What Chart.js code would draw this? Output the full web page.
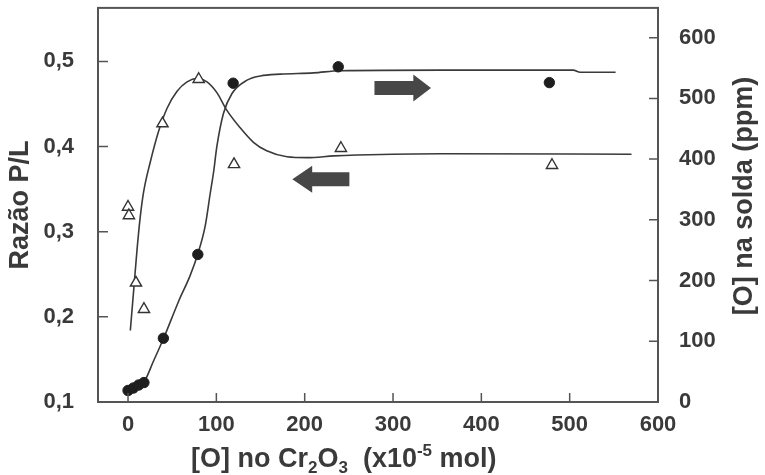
<!DOCTYPE html>
<html>
<head>
<meta charset="utf-8">
<script src="https://cdn.jsdelivr.net/npm/chart.js@4/dist/chart.umd.min.js"></script>
<style>
  html, body { margin: 0; padding: 0; background: #fff; }
  #wrap { width: 765px; height: 475px; }
</style>
</head>
<body>
<div id="wrap"><canvas id="grafico"></canvas></div>
<script>
// ---- dados ----
// triângulos: razão P/L (eixo esquerdo)
const xTriangulos = [0, 1, 9, 18, 39, 80, 120, 241, 480];
const razaoPL = [0.329, 0.319, 0.240, 0.209, 0.427, 0.479, 0.379, 0.398, 0.378];

// círculos: [O] na solda (eixo direito, ppm)
const xCirculos = [0, 6, 12, 18, 40, 79, 119, 238, 477];
const oxigenioSolda = [19, 23, 28, 32, 105, 243, 525, 552, 526];

// curva ajustada da razão P/L
const xCurvaPL = [2.6, 6.3, 10.2, 13.9, 17.7, 25, 34.6, 44.2, 55.5, 66.8, 78.5, 89.4, 100.8, 111, 127, 142, 157, 180, 203, 233, 259, 354, 570];
const curvaPL = [0.184, 0.230, 0.279, 0.318, 0.347, 0.381, 0.418, 0.445, 0.465, 0.476, 0.480, 0.476, 0.463, 0.444, 0.422, 0.405, 0.395, 0.388, 0.387, 0.389, 0.390, 0.3916, 0.391];

// curva ajustada do oxigênio na solda
const xCurvaO = [-3, 0.7, 6.3, 12, 17.7, 29, 40.3, 57.3, 70.5, 78.8, 87.5, 93.2, 97, 100.5, 108, 117.7, 134.7, 149.8, 172.4, 210, 240, 354, 504, 512, 552];
const curvaO = [14, 19, 23.5, 28, 32, 68, 105, 166, 209, 243, 291, 345, 380, 420, 475, 508, 530, 537, 540, 542, 545.5, 546.5, 546.5, 543, 543];

// marcas dos eixos
const xTicks = [0, 100, 200, 300, 400, 500, 600];
const yEsqTicks = [0.1, 0.2, 0.3, 0.4, 0.5];
const yEsqLabels = ["0,1", "0,2", "0,3", "0,4", "0,5"];
const yDirTicks = [0, 100, 200, 300, 400, 500, 600];

// setas (unidades de dados: x, razão P/L)
const setaDireita = { cauda: 279, base: 323, ponta: 343, y: 0.4686 };
const setaEsquerda = { cauda: 250.6, base: 208.5, ponta: 186, y: 0.3616 };

const FONTE = "'Liberation Sans', Arial, sans-serif";
const COR_TEXTO = "#3a3a3a";
const COR_EIXO = "#555";
const COR_LINHA = "#3a3a3a";

const pts = (xs, ys) => xs.map((x, i) => ({ x: x, y: ys[i] }));

/* ---------- plugin: moldura, marcas internas, setas e títulos ---------- */
const decoracao = {
  id: "decoracao",
  afterDraw(chart) {
    const { ctx, chartArea: a } = chart;
    const sx = chart.scales.x, sy = chart.scales.y, sy2 = chart.scales.y2;

    ctx.save();
    // moldura
    ctx.strokeStyle = COR_EIXO;
    ctx.lineWidth = 2;
    ctx.strokeRect(a.left, a.top, a.right - a.left, a.bottom - a.top);

    // marcas para dentro
    ctx.lineWidth = 1.5;
    ctx.beginPath();
    xTicks.forEach(v => {
      const p = sx.getPixelForValue(v);
      ctx.moveTo(p, a.bottom); ctx.lineTo(p, a.bottom - 9);
    });
    yEsqTicks.forEach(v => {
      const p = sy.getPixelForValue(v);
      ctx.moveTo(a.left, p); ctx.lineTo(a.left + 10, p);
    });
    yDirTicks.forEach(v => {
      const p = sy2.getPixelForValue(v);
      ctx.moveTo(a.right, p); ctx.lineTo(a.right - 9, p);
    });
    ctx.stroke();

    // setas
    ctx.fillStyle = "#474747";
    [setaDireita, setaEsquerda].forEach(s => {
      const xc = sx.getPixelForValue(s.cauda);
      const xb = sx.getPixelForValue(s.base);
      const xp = sx.getPixelForValue(s.ponta);
      const yc = sy.getPixelForValue(s.y);
      ctx.beginPath();
      ctx.moveTo(xc, yc - 7);
      ctx.lineTo(xb, yc - 7);
      ctx.lineTo(xb, yc - 13.5);
      ctx.lineTo(xp, yc);
      ctx.lineTo(xb, yc + 13.5);
      ctx.lineTo(xb, yc + 7);
      ctx.lineTo(xc, yc + 7);
      ctx.closePath();
      ctx.fill();
    });

    // títulos dos eixos
    ctx.fillStyle = COR_TEXTO;
    ctx.textBaseline = "alphabetic";
    ctx.font = "bold 27px " + FONTE;

    ctx.save();
    ctx.translate(28, (a.top + a.bottom) / 2);
    ctx.rotate(-Math.PI / 2);
    ctx.textAlign = "center";
    ctx.fillText("Razão P/L", 0, 0);
    ctx.restore();

    ctx.save();
    ctx.translate(752, 196);
    ctx.rotate(-Math.PI / 2);
    ctx.textAlign = "center";
    ctx.fillText("[O] na solda (ppm)", 0, 0);
    ctx.restore();

    // título do eixo x com índices
    const partes = [
      { t: "[O] no Cr", k: 0 }, { t: "2", k: 1 }, { t: "O", k: 0 }, { t: "3", k: 1 },
      { t: "  (x10", k: 0 }, { t: "-5", k: -1 }, { t: " mol)", k: 0 }
    ];
    let x = 191;
    const base = 467;
    ctx.textAlign = "left";
    partes.forEach(p => {
      ctx.font = (p.k === 0 ? "bold 27px " : "bold 17px ") + FONTE;
      const dy = p.k === 1 ? 6 : (p.k === -1 ? -11 : 0);
      ctx.fillText(p.t, x, base + dy);
      x += ctx.measureText(p.t).width;
    });
    ctx.restore();
  }
};

const fixarTicks = lista => scale => { scale.ticks = lista.map(v => ({ value: v })); };
const semPaddingV = w => s => { s.width = w; s.paddingTop = 0; s.paddingBottom = 0; };

new Chart(document.getElementById("grafico"), {
  type: "scatter",
  data: {
    datasets: [
      {
        data: pts(xCirculos, oxigenioSolda),
        yAxisID: "y2",
        pointStyle: "circle",
        pointRadius: 5.2,
        pointBackgroundColor: "#1e1e1e",
        pointBorderColor: "#1e1e1e",
        pointBorderWidth: 1
      },
      {
        data: pts(xTriangulos, razaoPL),
        yAxisID: "y",
        pointStyle: "triangle",
        pointRadius: 6.5,
        pointBackgroundColor: "#fff",
        pointBorderColor: "#333",
        pointBorderWidth: 1.4
      },
      {
        data: pts(xCurvaPL, curvaPL),
        yAxisID: "y",
        showLine: true,
        pointRadius: 0,
        borderColor: COR_LINHA,
        borderWidth: 1.6,
        cubicInterpolationMode: "monotone"
      },
      {
        data: pts(xCurvaO, curvaO),
        yAxisID: "y2",
        showLine: true,
        pointRadius: 0,
        borderColor: COR_LINHA,
        borderWidth: 1.6,
        cubicInterpolationMode: "monotone"
      }
    ]
  },
  options: {
    responsive: true,
    maintainAspectRatio: false,
    animation: false,
    layout: { padding: { top: 4, left: 0, right: 0, bottom: 0 } },
    plugins: { legend: { display: false }, tooltip: { enabled: false } },
    scales: {
      x: {
        type: "linear",
        position: "bottom",
        min: -34,
        max: 600,
        afterBuildTicks: fixarTicks(xTicks),
        afterFit: s => { s.height = 73; s.paddingLeft = 0; s.paddingRight = 0; },
        grid: { display: false, drawTicks: false },
        border: { display: false },
        ticks: { padding: 10, color: COR_TEXTO, font: { family: FONTE, size: 22, weight: "bold" }, maxRotation: 0, callback: v => String(v) }
      },
      y: {
        type: "linear",
        position: "left",
        min: 0.1,
        max: 0.5628,
        afterBuildTicks: fixarTicks(yEsqTicks),
        afterFit: semPaddingV(98),
        grid: { display: false, drawTicks: false },
        border: { display: false },
        ticks: { padding: 24, color: COR_TEXTO, font: { family: FONTE, size: 22, weight: "bold" }, callback: v => yEsqLabels[yEsqTicks.indexOf(v)] }
      },
      y2: {
        type: "linear",
        position: "right",
        min: 0,
        max: 649,
        afterBuildTicks: fixarTicks(yDirTicks),
        afterFit: semPaddingV(107),
        grid: { display: false, drawTicks: false },
        border: { display: false },
        ticks: { padding: 21, color: COR_TEXTO, font: { family: FONTE, size: 22, weight: "bold" }, callback: v => String(v) }
      }
    }
  },
  plugins: [decoracao]
});
</script>
</body>
</html>
